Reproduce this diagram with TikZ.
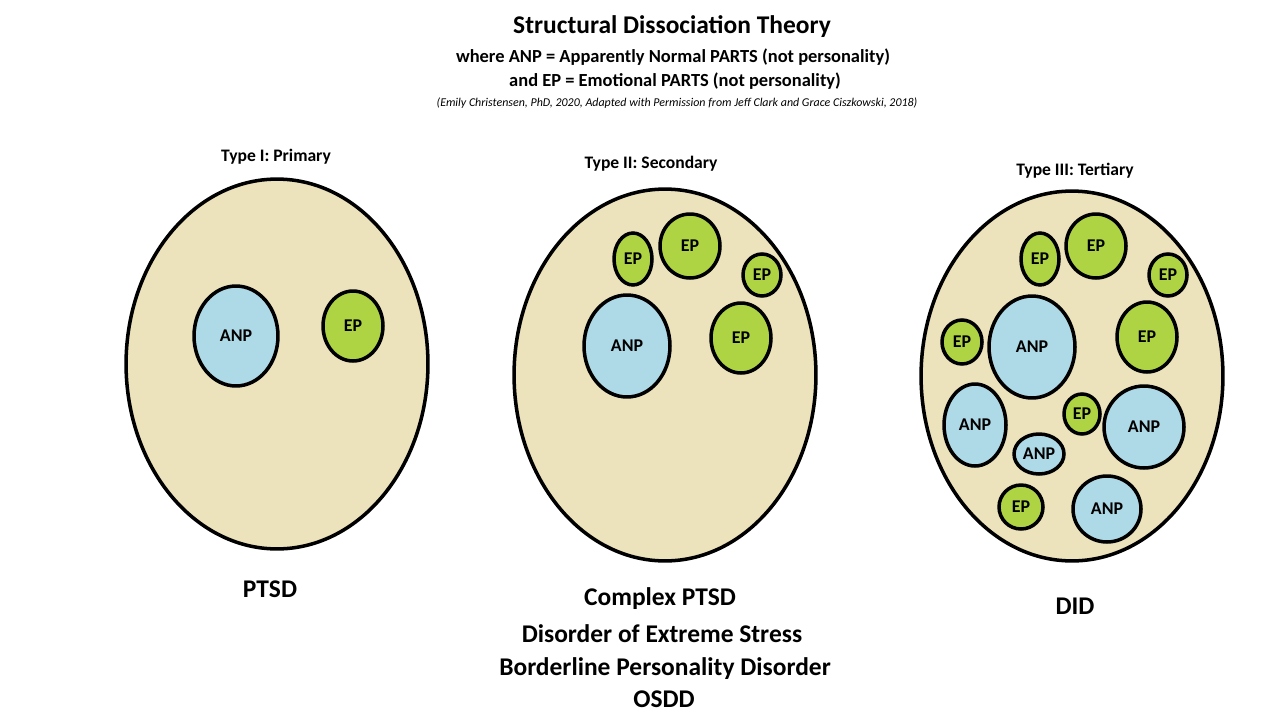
\documentclass[tikz,border=0pt]{standalone}
\usepackage{fontspec}
\setmainfont{Carlito}
\usetikzlibrary{shapes.geometric}
\definecolor{mindbeige}{RGB}{236,226,187}
\definecolor{anpblue}{RGB}{174,217,231}
\definecolor{epgreen}{RGB}{174,212,68}
\tikzset{
  mind/.style={draw, ellipse, line width=2pt, fill=mindbeige, inner sep=0pt},
  part/.style={draw, ellipse, line width=2pt, inner sep=0pt, font=\bfseries\fontsize{10.2}{12}\selectfont},
  anp/.style={part, fill=anpblue},
  ep/.style={part, fill=epgreen},
  typelabel/.style={font=\bfseries\fontsize{10}{12}\selectfont},
  disorder/.style={font=\bfseries\fontsize{14.5}{17}\selectfont}
}
\newcommand{\MindOval}[5]{%
  % #1 name, #2 x, #3 y, #4 rx, #5 ry (pixels)
  \node[mind, minimum width=#4*0.04cm, minimum height=#5*0.04cm] (#1) at (#2,#3) {};
}
\newcommand{\PartBubble}[7]{%
  % #1 name, #2 style (anp/ep), #3 text, #4 x, #5 y, #6 rx, #7 ry (pixels)
  \node[#2, minimum width=#6*0.04cm, minimum height=#7*0.04cm] (#1) at (#4,#5) {#3};
}

\begin{document}
\begin{tikzpicture}[x=0.02cm, y=-0.02cm]
  \useasboundingbox (0,0) rectangle (1280,720);

  % =======================
  % Title
  % =======================
  \node[font=\bfseries\fontsize{14.5}{17}\selectfont] (title) at (672,27) {Structural Dissociation Theory};
  \node[font=\bfseries\fontsize{10.5}{12}\selectfont] (subanp) at (673,57) {where ANP = Apparently Normal PARTS (not personality)};
  \node[font=\bfseries\fontsize{10.5}{12}\selectfont] (subep) at (675,81) {and EP = Emotional PARTS (not personality)};
  \node[font=\itshape\fontsize{6.8}{8}\selectfont] (cite) at (677,103) {(Emily Christensen, PhD, 2020, Adapted with Permission from Jeff Clark and Grace Ciszkowski, 2018)};

  % =======================
  % Type I: Primary
  % =======================
  \node[typelabel] (typeone) at (276,157) {Type I: Primary};
  \MindOval{primary}{277}{364}{151}{185}
  \PartBubble{pa1}{anp}{ANP}{236}{336}{42}{50}
  \PartBubble{pe1}{ep}{EP}{353}{326}{30}{35}
  \node[disorder] (ptsd) at (270,589) {PTSD};

  % =======================
  % Type II: Secondary
  % =======================
  \node[typelabel] (typetwo) at (651,164) {Type II: Secondary};
  \MindOval{secondary}{665}{375}{151}{186}
  \PartBubble{sa1}{anp}{ANP}{627}{346}{43}{51}
  \PartBubble{se1}{ep}{EP}{633}{259}{19}{26}
  \PartBubble{se2}{ep}{EP}{690}{246}{30}{32}
  \PartBubble{se3}{ep}{EP}{762}{275}{19}{21}
  \PartBubble{se4}{ep}{EP}{741}{338}{30}{35}
  \node[disorder] (cptsd) at (660,599) {Complex PTSD};
  \node[disorder] (desnos) at (662,634) {Disorder of Extreme Stress};
  \node[disorder] (bpd) at (665,669) {Borderline Personality Disorder};
  \node[disorder] (osdd) at (664,699) {OSDD};

  % =======================
  % Type III: Tertiary
  % =======================
  \node[typelabel] (typethree) at (1075,171) {Type III: Tertiary};
  \MindOval{tertiary}{1072}{376}{151}{185}
  \PartBubble{ta1}{anp}{ANP}{1032}{347}{43}{51}
  \PartBubble{ta2}{anp}{ANP}{975}{425}{31}{41}
  \PartBubble{ta3}{anp}{ANP}{1144}{427}{40}{41}
  \PartBubble{ta4}{anp}{ANP}{1039}{454}{25}{20}
  \PartBubble{ta5}{anp}{ANP}{1107}{509}{34}{33}
  \PartBubble{te1}{ep}{EP}{1040}{259}{19}{26}
  \PartBubble{te2}{ep}{EP}{1096}{246}{30}{32}
  \PartBubble{te3}{ep}{EP}{1168}{275}{19}{21}
  \PartBubble{te4}{ep}{EP}{962}{342}{20}{22}
  \PartBubble{te5}{ep}{EP}{1147}{337}{30}{35}
  \PartBubble{te6}{ep}{EP}{1082}{414}{18}{20}
  \PartBubble{te7}{ep}{EP}{1021}{507}{22}{22}
  \node[disorder] (did) at (1075,606) {DID};

\end{tikzpicture}
\end{document}
